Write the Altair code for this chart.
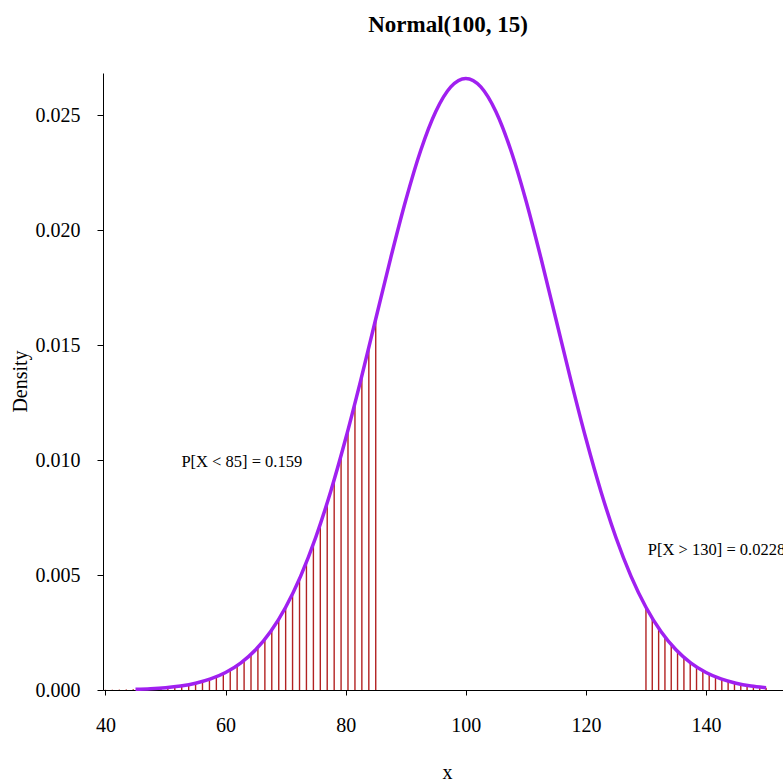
import altair as alt
import pandas as pd

# Density curve of Normal(100, 15)
curve_x = [45, 47.5, 50, 52.5, 55, 57.5, 60, 62.5, 65, 67.5, 70, 72.5, 75, 77.5, 80,
           82.5, 85, 87.5, 90, 92.5, 95, 97.5, 100, 102.5, 105, 107.5, 110, 112.5,
           115, 117.5, 120, 122.5, 125, 127.5, 130, 132.5, 135, 137.5, 140, 142.5,
           145, 147.5, 150]
curve_y = [0.0000320, 0.0000582, 0.0001028, 0.0001767, 0.0002955, 0.0004805, 0.0007597,
           0.0011686, 0.0017481, 0.0025434, 0.0035994, 0.0049535, 0.0066318, 0.0086344,
           0.0109340, 0.0134663, 0.0161314, 0.0187940, 0.0212964, 0.0234711, 0.0251587,
           0.0262291, 0.0265962, 0.0262291, 0.0251587, 0.0234711, 0.0212964, 0.0187940,
           0.0161314, 0.0134663, 0.0109340, 0.0086344, 0.0066318, 0.0049535, 0.0035994,
           0.0025434, 0.0017481, 0.0011686, 0.0007597, 0.0004805, 0.0002955, 0.0001767,
           0.0001028]

# Shaded lower tail (X < 85)
left_x = [40, 41.15, 42.31, 43.46, 44.62, 45.77, 46.92, 48.08, 49.23, 50.38, 51.54,
          52.69, 53.85, 55, 56.15, 57.31, 58.46, 59.62, 60.77, 61.92, 63.08, 64.23,
          65.38, 66.54, 67.69, 68.85, 70, 71.15, 72.31, 73.46, 74.62, 75.77, 76.92,
          78.08, 79.23, 80.38, 81.54, 82.69, 83.85, 85]
left_y = [0.0000089, 0.0000121, 0.0000163, 0.0000219, 0.0000292, 0.0000386, 0.0000508,
          0.0000665, 0.0000865, 0.0001119, 0.0001439, 0.0001839, 0.0002340, 0.0002955,
          0.0003708, 0.0004634, 0.0005747, 0.0007101, 0.0008700, 0.0010605, 0.0012861,
          0.0015489, 0.0018544, 0.0022092, 0.0026137, 0.0030790, 0.0035994, 0.0041819,
          0.0048397, 0.0055590, 0.0063574, 0.0072126, 0.0081406, 0.0091412, 0.0101938,
          0.0113108, 0.0124746, 0.0136659, 0.0148910, 0.0161314]

# Shaded upper tail (X > 130)
right_x = [130, 131.05, 132.11, 133.16, 134.21, 135.26, 136.32, 137.37, 138.42, 139.47,
           140.53, 141.58, 142.63, 143.68, 144.74, 145.79, 146.84, 147.89, 148.95, 150]
right_y = [0.0035994, 0.0031216, 0.0026899, 0.0023098, 0.0019740, 0.0016814, 0.0014182,
           0.0011941, 0.0010005, 0.0008342, 0.0006910, 0.0005705, 0.0004687, 0.0003833,
           0.0003112, 0.0002519, 0.0002030, 0.0001627, 0.0001295, 0.0001028]

note_text = ["P[X < 85] = 0.159", "P[X > 130] = 0.0228"]
note_x = [62.7, 141.75]
note_y = [0.0099, 0.0061]

x_ticks = [40, 60, 80, 100, 120, 140]
y_ticks = [0.000, 0.005, 0.010, 0.015, 0.020, 0.025]

FONT = "Liberation Serif"

curve_df = pd.DataFrame({"x": curve_x, "y": curve_y})
hatch_df = pd.DataFrame({"x": left_x + right_x, "y": left_y + right_y,
                         "y0": [0.0] * (len(left_x) + len(right_x))})
note_df = pd.DataFrame({"label": note_text, "x": note_x, "y": note_y})

xscale = alt.Scale(domain=[39.584, 152.82], nice=False, zero=False)
yscale = alt.Scale(domain=[0, 0.02683], nice=False, zero=True)

xaxis = alt.Axis(values=x_ticks, title="x", grid=False, domainColor="black",
                 tickColor="black", tickSize=5, labelPadding=20, labelFontSize=20,
                 labelFont=FONT, labelColor="black", titleFont=FONT, titleFontSize=20,
                 titleFontWeight="normal", titleColor="black", titleX=344, titleY=88,
                 titleBaseline="alphabetic", titleAlign="center", labelFlush=False)
yaxis = alt.Axis(values=y_ticks, format=".3f", title="Density", grid=False,
                 domainColor="black", tickColor="black", tickSize=6, labelPadding=17,
                 labelFontSize=20, labelFont=FONT, labelColor="black",
                 labelBaseline="middle", titleFont=FONT, titleFontSize=20,
                 titleFontWeight="normal", titleColor="black", titleAngle=270,
                 titleX=-83, titleY=308, titleAlign="center", titleBaseline="middle",
                 labelFlush=False)

hatch = alt.Chart(hatch_df).mark_rule(color="#b22222", strokeWidth=1.4).encode(
    x=alt.X("x:Q", scale=xscale, axis=xaxis),
    y=alt.Y("y0:Q", scale=yscale, axis=yaxis),
    y2="y:Q",
)

curve = alt.Chart(curve_df).mark_line(color="#a020f0", strokeWidth=3.5,
                                      interpolate="monotone").encode(
    x=alt.X("x:Q", scale=xscale),
    y=alt.Y("y:Q", scale=yscale),
)

notes = alt.Chart(note_df).mark_text(font=FONT, fontSize=16.5, color="black",
                                     align="center", baseline="middle").encode(
    x=alt.X("x:Q", scale=xscale),
    y=alt.Y("y:Q", scale=yscale),
    text="label:N",
)

chart = alt.layer(hatch, curve, notes).properties(
    width=680,
    height=617,
    title=alt.Title("Normal(100, 15)", font=FONT, fontSize=23, fontWeight="bold",
                    color="black", anchor="middle", offset=16, dx=5,
                    baseline="alphabetic"),
    autosize=alt.AutoSizeParams(type="none"),
    padding={"left": 103, "top": 73, "right": 0, "bottom": 91},
    background="white",
).configure_view(stroke=None)

chart.save("out.html", embed_options={"renderer": "svg", "actions": False})
